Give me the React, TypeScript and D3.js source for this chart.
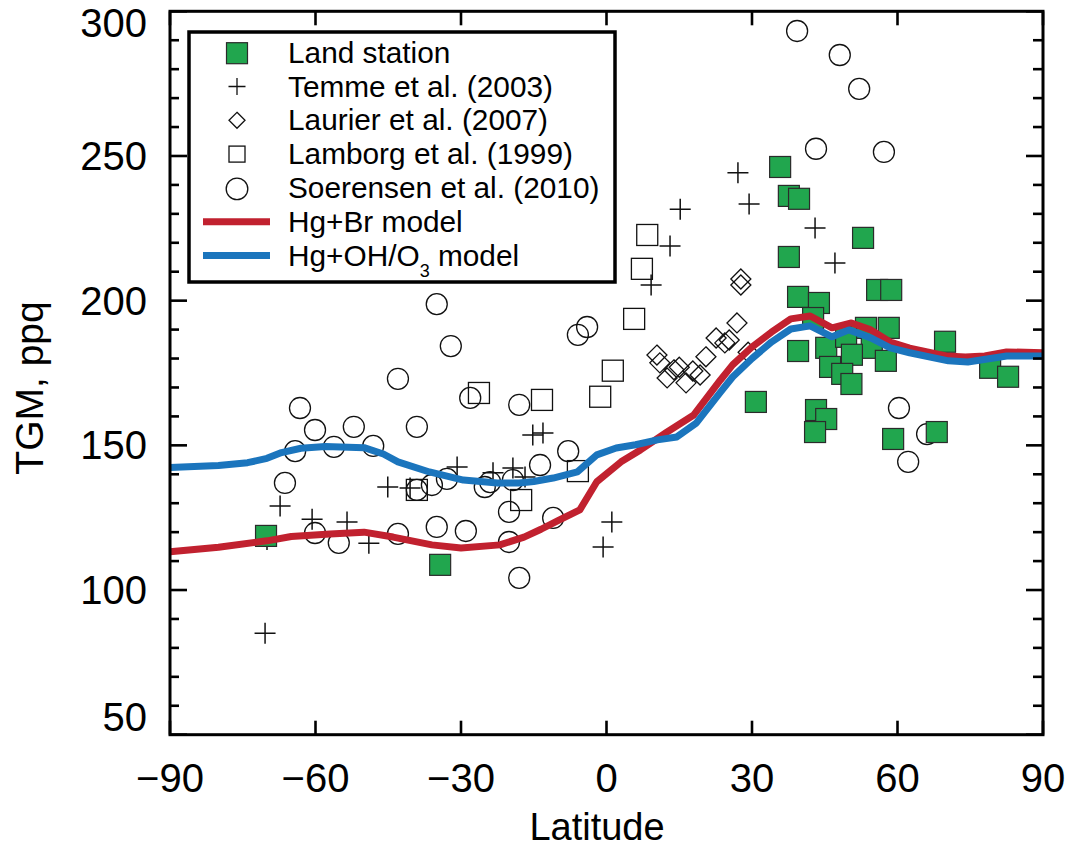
import React from 'react';
import * as d3 from 'd3';

const FONT = '"Liberation Sans", Arial, Helvetica, sans-serif';
const GREEN = '#21a64e';
const RED = '#c1212f';
const BLUE = '#1b75bd';

type Pt = [number, number]; // [latitude, TGM ppq]

const landStation: Pt[] = [
  [-70.2, 118.7], [-34.3, 108.7], [35.8, 246.2], [37.6, 236.2], [39.7, 235.2],
  [52.9, 221.7], [37.6, 215.1], [55.8, 203.7], [58.7, 203.7], [39.5, 201.3],
  [43.8, 199.2], [42.6, 194.0], [53.5, 190.6], [58.2, 190.6], [69.8, 185.8],
  [39.5, 182.6], [45.3, 183.7], [49.4, 187.5], [54.7, 183.7], [50.6, 181.3],
  [57.6, 179.2], [46.1, 177.1], [48.6, 174.7], [50.5, 171.2], [79.1, 176.8],
  [82.8, 173.7], [30.8, 165.0], [43.2, 162.2], [45.3, 159.1], [43.0, 154.6],
  [59.1, 152.2], [68.1, 154.6],
];

const temme: Pt[] = [
  [-70.4, 85.1], [-70, 117.5], [-67.3, 129.0], [-60.7, 124.5], [-53.5, 123.5],
  [-49.0, 116.2], [-45.1, 135.6], [-40.5, 135.3], [-30.8, 142.5], [-23.4, 140.5],
  [-19.3, 142.2], [-16.8, 139.1], [-15.2, 153.6], [-13.1, 154.3], [-0.7, 114.9],
  [1.1, 123.5], [9.2, 205.4], [13.1, 218.9], [15.2, 231.6], [27.1, 244.2],
  [29.4, 233.4], [43.0, 225.1], [47.1, 213.0],
];

const laurier: Pt[] = [
  [10.4, 181.2], [11.0, 178.5], [12.5, 173.3], [13.9, 176.1], [15.0, 177.0],
  [16.4, 171.6], [17.8, 175.7], [19.3, 174.3], [20.5, 180.6], [22.6, 187.1],
  [24.4, 185.4], [25.3, 186.4], [26.9, 192.3], [27.7, 207.5], [27.7, 205.4],
  [29.2, 182.2],
];

const lamborg: Pt[] = [
  [8.4, 222.7], [7.3, 211.0], [5.7, 193.7], [1.3, 175.8], [-1.3, 166.8],
  [-13.3, 165.7], [-26.3, 168.1], [-5.9, 141.1], [-17.6, 131.1], [-39.1, 134.6],
];

const soerensen: Pt[] = [
  [-66.3, 137.0], [-64.2, 148.0], [-63.2, 162.9], [-60.1, 155.3], [-56.2, 149.5],
  [-60.1, 119.7], [-55.2, 116.3], [-52.1, 156.4], [-48.1, 149.8], [-43.0, 119.4],
  [-35.0, 121.8], [-29.0, 120.4], [-20.1, 116.6], [-18.0, 104.2], [-20.1, 127.0],
  [-18.0, 164.0], [-35.0, 198.8], [-32.1, 184.3], [-43.0, 173.0], [-28.1, 166.4],
  [-39.1, 156.4], [-39.1, 134.6], [-36.0, 136.3], [-32.9, 138.4], [-25.1, 135.6],
  [-24.0, 137.3], [-19.3, 138.0], [-13.7, 143.2], [-7.9, 148.0], [-5.9, 188.2],
  [-4.0, 190.9], [-11.0, 124.9], [39.3, 293.2], [48.1, 284.9], [52.1, 273.2],
  [43.2, 252.5], [57.2, 251.4], [60.3, 162.9], [66.1, 153.9], [62.2, 144.3],
];

const brModel: Pt[] = [
  [-90, 113.2], [-80, 114.8], [-70, 117], [-65, 118.5], [-57, 119.4], [-50, 120],
  [-44, 118.3], [-36, 115.6], [-30, 114.5], [-22, 115.6], [-17, 118.3], [-13.5, 121],
  [-10, 124], [-5.5, 127.7], [-2, 137.4], [3, 144.3], [7, 148.4], [12.5, 154.6],
  [18, 160.5], [23.5, 172.6], [26, 177.8], [30, 184], [34, 189.1], [38, 193.7],
  [42, 194.7], [46.5, 190.6], [50.5, 192.3], [54.5, 189.9], [58.5, 185.7],
  [62.5, 183.6], [70, 180.9], [74, 180.5], [78, 180.9], [82.5, 182.3], [90, 182],
];

const ohModel: Pt[] = [
  [-90, 142.3], [-80, 143], [-74, 144], [-70, 145.5], [-67, 147.5], [-63, 149],
  [-58, 149.6], [-50, 149.2], [-46, 147], [-43, 144.3], [-36.5, 140.8], [-29.5, 138],
  [-22.5, 137], [-18, 137], [-15, 137.5], [-11, 138.7], [-6, 140.8], [-2, 146.7],
  [2, 149.1], [6, 150.2], [10.5, 151.9], [14.5, 152.9], [18.5, 157.7], [23.5, 168.4],
  [26, 173.6], [30, 180], [34, 185.7], [38, 190.2], [42, 191.3], [46.5, 187.5],
  [50, 189.9], [54.5, 187.1], [58.5, 183.7], [62.5, 182], [70.5, 179.2], [74.5, 178.8],
  [82.5, 180.9], [90, 180.9],
];

const xTicks = [-90, -60, -30, 0, 30, 60, 90];
const yTicks = [50, 100, 150, 200, 250, 300];

const fmt = (v: number) => (v < 0 ? '\u2212' + Math.abs(v) : String(v));

export default function App() {
  const x = d3.scaleLinear().domain([-90, 90]).range([170, 1043]);
  const y = d3.scaleLinear().domain([50, 300]).range([734.7, 11.3]);
  const line = d3.line<Pt>().x(d => x(d[0])).y(d => y(d[1]));
  const yMinor = d3.range(50, 301, 10).filter(v => v % 50 !== 0);

  const [x0, x1] = x.range();
  const [y0, y1] = y.range();

  const plusPath = (s: number) => `M${-s},0H${s}M0,${-s}V${s}`;
  const diamondPath = (s: number) => `M0,${-s}L${s},0L0,${s}L${-s},0Z`;

  const legendRows = [
    'Land station', 'Temme et al. (2003)', 'Laurier et al. (2007)', 'Lamborg et al. (1999)',
    'Soerensen et al. (2010)', 'Hg+Br model', 'Hg+OH/O3 model',
  ];
  const lx = 237;
  const rowBase = (i: number) => 62.7 + i * 33.8;

  return (
    <svg width={1069} height={849} style={{ position: 'absolute', left: 0, top: 0, background: '#fff' }}
      fontFamily={FONT}>
      {/* open markers */}
      <g fill="none" stroke="#111" strokeWidth={1.3}>
        {soerensen.map((d, i) => <circle key={'c' + i} cx={x(d[0])} cy={y(d[1])} r={10.5} />)}
        {lamborg.map((d, i) => <rect key={'s' + i} x={x(d[0]) - 10.5} y={y(d[1]) - 10.5} width={21} height={21} />)}
        {laurier.map((d, i) => <path key={'d' + i} transform={`translate(${x(d[0])},${y(d[1])})`} d={diamondPath(10)} />)}
        {temme.map((d, i) => <path key={'p' + i} transform={`translate(${x(d[0])},${y(d[1])})`} d={plusPath(10.5)} strokeWidth={1.5} />)}
      </g>
      {/* land stations */}
      <g fill={GREEN} stroke="#2b2b2b" strokeWidth={1.2}>
        {landStation.map((d, i) => <rect key={'g' + i} x={x(d[0]) - 10.5} y={y(d[1]) - 10.5} width={21} height={21} />)}
      </g>
      {/* models */}
      <path d={line(brModel) || ''} fill="none" stroke={RED} strokeWidth={7} strokeLinejoin="round" />
      <path d={line(ohModel) || ''} fill="none" stroke={BLUE} strokeWidth={7} strokeLinejoin="round" />

      {/* frame and ticks */}
      <g stroke="#000" strokeWidth={2.6}>
        {xTicks.map(v => (
          <g key={'xt' + v}>
            <line x1={x(v)} x2={x(v)} y1={y0} y2={y0 - 14} />
            <line x1={x(v)} x2={x(v)} y1={y1} y2={y1 + 14} />
          </g>
        ))}
        {yTicks.map(v => (
          <g key={'yt' + v}>
            <line x1={x0} x2={x0 + 17} y1={y(v)} y2={y(v)} />
            <line x1={x1} x2={x1 - 17} y1={y(v)} y2={y(v)} />
          </g>
        ))}
        {yMinor.map(v => (
          <g key={'ym' + v}>
            <line x1={x0} x2={x0 + 9} y1={y(v)} y2={y(v)} />
            <line x1={x1} x2={x1 - 10} y1={y(v)} y2={y(v)} />
          </g>
        ))}
        <rect x={x0} y={y1} width={x1 - x0} height={y0 - y1} fill="none" strokeWidth={3} />
      </g>

      {/* tick labels */}
      <g fontSize={40} fill="#000">
        {xTicks.map(v => (
          <text key={'xl' + v} x={x(v)} y={792} textAnchor="middle">{fmt(v)}</text>
        ))}
        {yTicks.map(v => (
          <text key={'yl' + v} x={147} y={Math.min(731, Math.max(37, y(v) + 14))} textAnchor="end">{v}</text>
        ))}
      </g>
      <text x={597} y={840} fontSize={38} textAnchor="middle">Latitude</text>
      <text transform="translate(43,388) rotate(-90)" fontSize={39} textAnchor="middle">TGM, ppq</text>

      {/* legend */}
      <rect x={189} y={32} width={426} height={250} fill="#fff" stroke="#000" strokeWidth={3.5} />
      <g>
        <rect x={lx - 10.5} y={rowBase(0) - 20} width={21} height={21} fill={GREEN} stroke="#2b2b2b" strokeWidth={1.2} />
        <path transform={`translate(${lx},${rowBase(1) - 10})`} d={plusPath(8.5)} stroke="#111" strokeWidth={1.3} fill="none" />
        <path transform={`translate(${lx},${rowBase(2) - 10})`} d={diamondPath(8)} stroke="#111" strokeWidth={1.3} fill="none" />
        <rect x={lx - 8} y={rowBase(3) - 18} width={16} height={16} stroke="#111" strokeWidth={1.3} fill="none" />
        <circle cx={lx} cy={rowBase(4) - 9} r={10.8} stroke="#111" strokeWidth={1.3} fill="none" />
        <line x1={203} x2={270} y1={rowBase(5) - 10} y2={rowBase(5) - 10} stroke={RED} strokeWidth={7} />
        <line x1={203} x2={270} y1={rowBase(6) - 10} y2={rowBase(6) - 10} stroke={BLUE} strokeWidth={7} />
      </g>
      <g fontSize={29.8} fill="#000">
        {legendRows.map((t, i) =>
          i === 6 ? (
            <text key={'lg' + i} x={288} y={rowBase(i)}>
              Hg+OH/O<tspan fontSize={18} dy={11}>3</tspan><tspan dy={-11}> model</tspan>
            </text>
          ) : (
            <text key={'lg' + i} x={288} y={rowBase(i)}>{t}</text>
          )
        )}
      </g>
    </svg>
  );
}
